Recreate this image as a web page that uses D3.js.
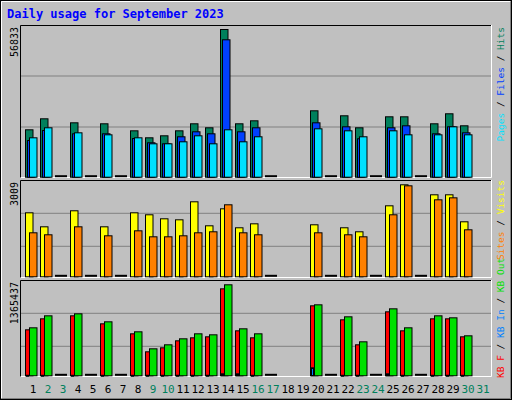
<!DOCTYPE html>
<html><head><meta charset="utf-8">
<script src="https://cdn.jsdelivr.net/npm/d3@7"></script>
<style>body{margin:0;background:#fff}text{font-family:"DejaVu Sans Mono",monospace}</style>
</head><body>
<script>
const days = d3.range(1,32);
const weekend = [2,3,9,10,16,17,23,24,30,31];
// null = no mark, 0 = dash
const hits  = [18240,22470,0,20930,0,20550,0,17850,15160,15930,17850,20550,19010,56833,20550,21700,0,null,null,25550,0,23630,19010,0,23240,23240,0,20550,24400,19780,null];
const files = [14120,17970,0,16700,0,16700,0,14890,13240,12850,15550,17470,16700,52870,17470,19010,0,null,null,20930,0,19390,14780,0,19010,19780,0,16700,19390,17080,null];
const pages = [15160,19010,0,17080,0,16310,0,15160,12850,12850,13620,15930,12850,18240,13620,15550,0,null,null,18620,0,17850,15550,0,17850,16310,0,16310,19390,16310,null];
const visits= [2093,1635,0,2159,0,1635,0,2093,2028,1897,1864,2453,1668,2224,1603,1733,0,null,null,1701,0,1603,1472,0,2322,3009,0,2682,2682,1799,null];
const sites = [1439,1374,0,1635,0,1341,0,1504,1308,1308,1341,1439,1472,2355,1439,1374,0,null,null,1439,0,1374,1308,0,2028,2976,0,2518,2583,1537,null];
const kbF   = [690e3,855e3,0,900e3,0,780e3,0,630e3,360e3,420e3,525e3,570e3,585e3,1305e3,675e3,570e3,0,null,null,1050e3,0,840e3,465e3,0,960e3,675e3,0,855e3,855e3,585e3,null];
const kbIn  = [8e3,8e3,0,8e3,0,8e3,0,8e3,8e3,8e3,8e3,8e3,8e3,30e3,30e3,8e3,0,null,null,120e3,0,8e3,8e3,0,30e3,8e3,0,8e3,8e3,8e3,null];
const kbOut = [720e3,900e3,0,930e3,0,810e3,0,660e3,405e3,465e3,555e3,630e3,615e3,1365437,705e3,630e3,0,null,null,1065e3,0,885e3,510e3,0,1005e3,720e3,0,900e3,870e3,600e3,null];
const maxLabels = ["56833","3009","1365437"];

const W=512,H=400;
const svg=d3.select("body").append("svg").attr("width",W).attr("height",H);
svg.append("rect").attr("width",W).attr("height",H).attr("fill","#C0C0C0");
svg.append("rect").attr("x",0.5).attr("y",0.5).attr("width",W-1).attr("height",H-1).attr("fill","none").attr("stroke","#000");
svg.append("path").attr("d",`M1.5,${H-2}V1.5H${W-2}`).attr("fill","none").attr("stroke","#fff");
svg.append("path").attr("d",`M1.5,${H-1.5}H${W-1.5}V1.5`).attr("fill","none").attr("stroke","#808080").attr("stroke-width",1);
svg.append("text").attr("x",7).attr("y",18).attr("fill","#0000FF").attr("font-weight","bold").attr("font-size",12).text("Daily usage for September 2023");

const x = d3.scaleLinear().domain([1,31]).range([25,475]); // slot left

const panels=[
 {top:25,bot:178,base:176.7,maxY:29,max:56833,grid:[127,76],series:[[hits,"#00805C",0],[files,"#0040FF",2],[pages,"#00E0FF",4]],
  lab:{y:27,anchor:"end"},label:[["Pages","#00E0FF"],[" / ","#000"],["Files","#0040FF"],[" / ","#000"],["Hits","#00805C"]]},
 {top:180,bot:278,base:276.3,maxY:184.3,max:3009,grid:[246.3,213.3],series:[[visits,"#FFFF00",0],[sites,"#FF8000",4]],
  lab:{y:180,anchor:"end"},label:[["Sites","#FF8000"],[" / ","#000"],["Visits","#FFFF00"]]},
 {top:280,bot:377,base:375.3,maxY:284.3,max:1365437,grid:[346.3,313.3],series:[[kbF,"#FF0000",0],[kbIn,"#0080FF",1],[kbOut,"#00E000",4]],
  lab:{y:378,anchor:"start"},label:[["KB F","#FF0000"],[" / ","#000"],["KB In","#0080FF"],[" / ","#000"],["KB Out","#00E000"]]}
];
panels.forEach((p,i)=>{
  svg.append("rect").attr("x",20).attr("y",p.top).attr("width",471).attr("height",p.bot-p.top).attr("fill","#C0C0C0");
  svg.append("path").attr("d",`M20.5,${p.bot}V${p.top+0.5}H491`).attr("fill","none").attr("stroke","#000");
  svg.append("path").attr("d",`M20.5,${p.bot-0.5}H491.5V${p.top}`).attr("fill","none").attr("stroke","#fff");
  p.grid.forEach(g=>svg.append("line").attr("x1",21).attr("x2",491).attr("y1",g).attr("y2",g).attr("stroke","#808080"));
  const y=d3.scaleLinear().domain([0,p.max]).range([p.base,p.maxY]);
  days.forEach((d,k)=>{ if(p.series[0][0][k]===0)
    svg.append("rect").attr("x",x(d)).attr("y",p.base-1.5).attr("width",12).attr("height",2).attr("fill","#000");});
  p.series.forEach(([arr,col,off])=>{
    svg.append("g").selectAll("rect").data(days.filter((d,k)=>arr[k]>0)).join("rect")
      .attr("x",d=>x(d)+off+0.5).attr("y",d=>y(arr[d-1])+0.5)
      .attr("width",off===1?2:7.5).attr("height",d=>Math.max(1,p.base-y(arr[d-1])))
      .attr("fill",col).attr("stroke","#000").attr("stroke-width",1);
  });
  svg.append("text").attr("transform",`translate(18,${p.top+2}) rotate(-90)`).attr("text-anchor","end")
    .attr("font-size",10).attr("fill","#000").text(maxLabels[i]);
  const t=svg.append("text").attr("transform",`translate(504,${p.lab.y}) rotate(-90)`).attr("text-anchor",p.lab.anchor).attr("font-size",9.5);
  p.label.forEach(([s,c])=>t.append("tspan").attr("fill",c).attr("xml:space","preserve").text(s));
});
svg.append("g").selectAll("text").data(days).join("text")
  .attr("x",d=>x(d)+8).attr("y",393).attr("text-anchor","middle").attr("font-size",11)
  .attr("fill",d=>weekend.includes(d)?"#00805C":"#000").text(d=>d);
</script>
</body></html>
